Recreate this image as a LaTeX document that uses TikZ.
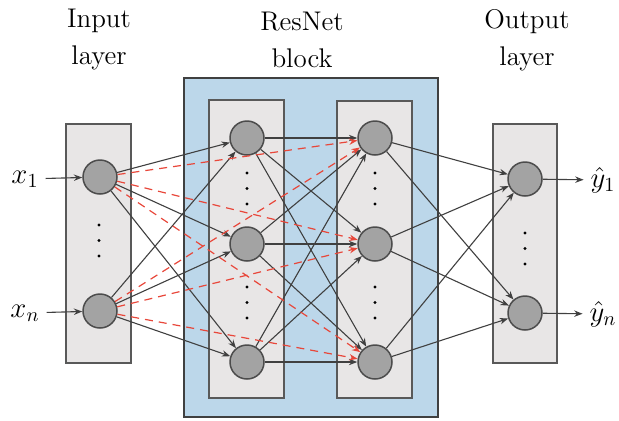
\documentclass[tikz,border=0pt]{standalone}
\usepackage{amsmath}
\usetikzlibrary{arrows.meta}

\definecolor{blockblue}{HTML}{BCD7EA}
\definecolor{layergray}{HTML}{E8E6E6}
\definecolor{skipred}{HTML}{E8473A}

\begin{document}
\begin{tikzpicture}[x=0.5pt, y=-0.5pt, >={Stealth[length=4.2pt,width=3.2pt]},
  neuron/.style={circle, draw=black!70, fill=black!36, line width=0.75pt, minimum size=17pt, inner sep=0pt},
  layerbox/.style={draw=black!65, fill=layergray, line width=0.75pt},
  edge/.style={->, draw=black!75, line width=0.55pt},
  skip/.style={->, draw=skipred, line width=0.6pt, dash pattern=on 4pt off 3pt},
  title/.style={align=center, font=\fontsize{13.5}{18.5}\selectfont},
  lbl/.style={font=\fontsize{14}{16}\selectfont}]
\useasboundingbox (0,0) rectangle (619,420);

% boxes
\draw[draw=black!75, fill=blockblue, line width=0.75pt] (184,78) rectangle (438,417);
\draw[layerbox] (66,124) rectangle (131,363);
\draw[layerbox] (209,100) rectangle (284,398);
\draw[layerbox] (337,101) rectangle (412,398);
\draw[layerbox] (493,124) rectangle (557,363);

% titles
\node[title] (tin) at (99,40) {Input\\layer};
\node[title] (tres) at (302,40) {ResNet\\block};
\node[title] (tout) at (527,40) {Output\\layer};

% neurons
\node[neuron] (i1) at (100,177) {};
\node[neuron] (in) at (100,311) {};
\node[neuron] (h11) at (247,138) {};
\node[neuron] (h12) at (247,244) {};
\node[neuron] (h13) at (247,362) {};
\node[neuron] (h21) at (375,138) {};
\node[neuron] (h22) at (375,244) {};
\node[neuron] (h23) at (375,362) {};
\node[neuron] (o1) at (525,179) {};
\node[neuron] (on) at (525,313) {};

% dots
\foreach \x/\y in {99/225, 247/173, 247/287, 375/173, 375/287, 525/233}
  \foreach \k in {0,1,2}
    \fill[black] (\x,\y+15.5*\k) circle (1.6);

% inputs and outputs
\node[lbl] (x1) at (25,179) {$x_1$};
\node[lbl] (xn) at (25,313) {$x_n$};
\node[lbl] (y1) at (603,180) {$\hat{y}_1$};
\node[lbl] (yn) at (603,314) {$\hat{y}_n$};
\draw[edge] (x1) -- (i1);
\draw[edge] (xn) -- (in);
\draw[edge] (o1) -- (y1);
\draw[edge] (on) -- (yn);

% connections
\foreach \a in {i1,in}
  \foreach \b in {h11,h12,h13}
    \draw[edge] (\a) -- (\b);
\foreach \a in {h11,h12,h13}
  \foreach \b in {h21,h22,h23}
    \draw[edge] (\a) -- (\b);
\foreach \a in {h21,h22,h23}
  \foreach \b in {o1,on}
    \draw[edge] (\a) -- (\b);

% skip connections
\foreach \a in {i1,in}
  \foreach \b in {h21,h22,h23}
    \draw[skip] (\a) -- (\b);
\end{tikzpicture}
\end{document}
